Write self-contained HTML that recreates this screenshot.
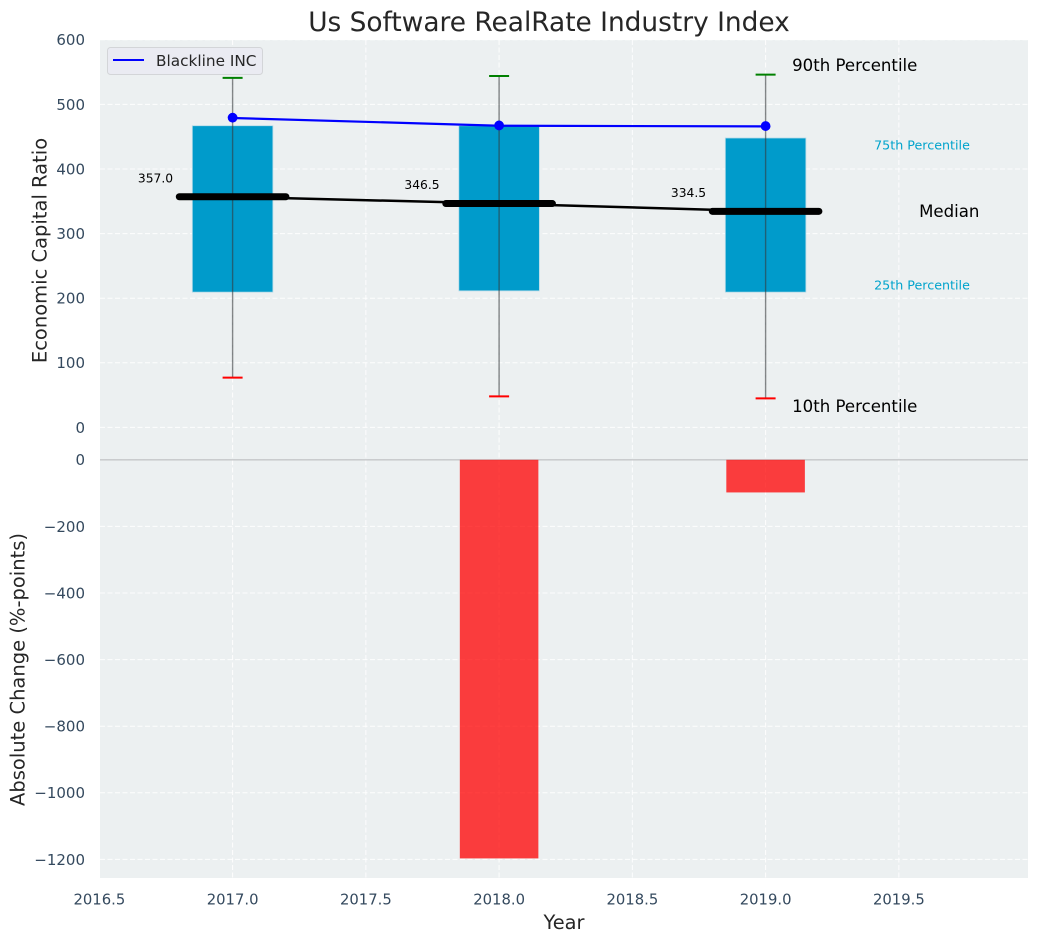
<!DOCTYPE html>
<html lang="en">
<head>
<meta charset="utf-8">
<title>Us Software RealRate Industry Index</title>
<style>
html,body{margin:0;padding:0;background:#fff;width:1039px;height:942px;overflow:hidden}
svg{display:block;font-family:"DejaVu Sans","Liberation Sans",sans-serif}
</style>
</head>
<body>
<svg id="chart" xmlns="http://www.w3.org/2000/svg" width="1039" height="942" viewBox="0 0 1039 942"></svg>
<script>
const years = [2017, 2018, 2019];
const p90 = [541, 544, 546];
const p75 = [467, 467, 448];
const medians = [357, 346.5, 334.5];
const medianLabels = ['357.0', '346.5', '334.5'];
const p25 = [210, 212, 210];
const p10 = [77, 48, 45];
const blackline = [479, 467, 466];
const absChange = [0, -1197, -98];
const xTicks = [2016.5, 2017, 2017.5, 2018, 2018.5, 2019, 2019.5];
const xTickLabels = ['2016.5', '2017.0', '2017.5', '2018.0', '2018.5', '2019.0', '2019.5'];
const topTicks = [0, 100, 200, 300, 400, 500, 600];
const bottomTicks = [0, -200, -400, -600, -800, -1000, -1200];

const svg = document.getElementById('chart');
const NS = 'http://www.w3.org/2000/svg';
const xScale = v => 232.6 + 266.5 * (v - 2017);
const yTop = v => 427.4 - 0.646 * v;
const yBottom = v => 459.8 - 0.333 * v;
const barHalf = 0.15;

function mk(tag, attrs, parent) {
  const el = document.createElementNS(NS, tag);
  for (const k in attrs) el.setAttribute(k, attrs[k]);
  (parent || svg).appendChild(el);
  return el;
}
function txt(content, attrs) {
  const el = mk('text', attrs);
  el.textContent = content;
  return el;
}

let el;
el = mk('rect', {x: 100, y: 40, width: 928, height: 838, fill: '#ecf0f1'});



/* grid */
topTicks.forEach(t => {
  const g = mk('line', {x1: 100, x2: 1028, y1: yTop(t), y2: yTop(t), stroke: '#fff', 'stroke-width': 1, 'stroke-dasharray': '5 2.5', opacity: .9});
  
  
});
bottomTicks.forEach(t => {
  const g = mk('line', {x1: 100, x2: 1028, y1: yBottom(t), y2: yBottom(t), stroke: '#fff', 'stroke-width': 1, 'stroke-dasharray': '5 2.5', opacity: .9});
  
  
});
xTicks.forEach(t => {
  const g = mk('line', {x1: xScale(t), x2: xScale(t), y1: 40, y2: 878, stroke: '#fff', 'stroke-width': 1, 'stroke-dasharray': '5 2.5', opacity: .9});
  
  
});

/* zero line of lower panel */
el = mk('line', {x1: 100, x2: 1028, y1: yBottom(0), y2: yBottom(0), stroke: '#c4c6c8', 'stroke-width': 1.3});



/* boxes */
years.forEach((yr, i) => {
  const x0 = xScale(yr - barHalf), x1 = xScale(yr + barHalf);
  const b = mk('rect', {x: x0 - 0.3, y: yTop(p75[i]), width: x1 - x0 + 0.6, height: yTop(p25[i]) - yTop(p75[i]) + 0.4, fill: '#009bcb', stroke: '#b5dbe8', 'stroke-width': 0.8});
  
  
});

/* whiskers */
years.forEach((yr, i) => {
  const x = xScale(yr);
  const w = mk('line', {x1: x, x2: x, y1: yTop(p90[i]), y2: yTop(p10[i]), stroke: '#33393c', 'stroke-opacity': .6, 'stroke-width': 1.4});
  
  
  const hi = mk('line', {x1: x - 10, x2: x + 10, y1: yTop(p90[i]), y2: yTop(p90[i]), stroke: '#008000', 'stroke-width': 2});
  
  
  const lo = mk('line', {x1: x - 10, x2: x + 10, y1: yTop(p10[i]), y2: yTop(p10[i]), stroke: '#ff0000', 'stroke-width': 2});
  
  
});

/* median connecting line */
el = mk('polyline', {points: years.map((yr, i) => xScale(yr) + ',' + yTop(medians[i])).join(' '), fill: 'none', stroke: '#000', 'stroke-width': 2.5});



/* median thick markers and labels */
years.forEach((yr, i) => {
  const m = mk('line', {x1: xScale(yr - 0.2), x2: xScale(yr + 0.2), y1: yTop(medians[i]), y2: yTop(medians[i]), stroke: '#000', 'stroke-width': 7, 'stroke-linecap': 'round'});
  
  
  const t = txt(medianLabels[i], {x: xScale(yr) - 94.7, y: yTop(medians[i]) - 14.5, 'font-size': 12.3, fill: '#000'});
  
  
});

/* Blackline series */
el = mk('polyline', {points: years.map((yr, i) => xScale(yr) + ',' + yTop(blackline[i])).join(' '), fill: 'none', stroke: '#0000ff', 'stroke-width': 2.2});


years.forEach((yr, i) => {
  const c = mk('circle', {cx: xScale(yr), cy: yTop(blackline[i]) - 0.3, r: 4.9, fill: '#0000ff'});
  
  
});

/* lower bars */
years.forEach((yr, i) => {
  if (absChange[i] === 0) return;
  const x0 = xScale(yr - barHalf) + 0.7, x1 = xScale(yr + barHalf) - 0.7;
  const b = mk('rect', {x: x0, y: yBottom(0), width: x1 - x0, height: yBottom(absChange[i]) - yBottom(0), fill: '#ff0000', 'fill-opacity': .75});
  
  
});

/* percentile annotations placed against the last year */
const last = years.length - 1;
const lastX = xScale(years[last]);
el = txt('90th Percentile', {x: lastX + 26.5, y: yTop(p90[last]) - 3.5, 'font-size': 16.6, fill: '#000'});


el = txt('10th Percentile', {x: lastX + 26.5, y: yTop(p10[last]) + 13.5, 'font-size': 16.6, fill: '#000'});


el = txt('75th Percentile', {x: lastX + 108.5, y: yTop(p75[last]) + 11.5, 'font-size': 12.7, fill: '#00a3cc'});


el = txt('25th Percentile', {x: lastX + 108.5, y: yTop(p25[last]) - 2, 'font-size': 12.7, fill: '#00a3cc'});


el = txt('Median', {x: lastX + 153.5, y: yTop(medians[last]) + 5.5, 'font-size': 16.6, fill: '#000'});



/* tick labels */
const fmt = v => (v < 0 ? '\u2212' + Math.abs(v) : String(v));
topTicks.forEach(t => {
  const l = txt(fmt(t), {x: 85, y: yTop(t) + 5.4, 'font-size': 15, fill: '#34495e', 'text-anchor': 'end'});
  
  
});
bottomTicks.forEach(t => {
  const l = txt(fmt(t), {x: 85, y: yBottom(t) + 5.4, 'font-size': 15, fill: '#34495e', 'text-anchor': 'end'});
  
  
});
xTicks.forEach((t, i) => {
  const l = txt(xTickLabels[i], {x: xScale(t), y: 904.5, 'font-size': 14.8, fill: '#34495e', 'text-anchor': 'middle'});
  
  
});

/* titles */
el = txt('Us Software RealRate Industry Index', {x: 549, y: 31, 'font-size': 26.4, fill: '#262626', 'text-anchor': 'middle'});


el = txt('Year', {x: 564, y: 929, 'font-size': 19.4, fill: '#262626', 'text-anchor': 'middle'});


el = txt('Economic Capital Ratio', {x: 0, y: 0, 'font-size': 19.5, fill: '#262626', 'text-anchor': 'middle', transform: 'translate(46.5 250.5) rotate(-90)'});


el = txt('Absolute Change (%-points)', {x: 0, y: 0, 'font-size': 19.5, fill: '#262626', 'text-anchor': 'middle', transform: 'translate(24.5 669.5) rotate(-90)'});



/* legend */
el = mk('rect', {x: 107.5, y: 47.5, width: 155, height: 27, rx: 3, fill: '#eaeaf2', 'fill-opacity': .85, stroke: '#d3d5d8', 'stroke-width': 1});


el = mk('line', {x1: 113, x2: 144, y1: 60, y2: 60, stroke: '#0000ff', 'stroke-width': 2});


el = txt('Blackline INC', {x: 156, y: 66, 'font-size': 15.3, fill: '#262626'});


</script>
</body>
</html>
